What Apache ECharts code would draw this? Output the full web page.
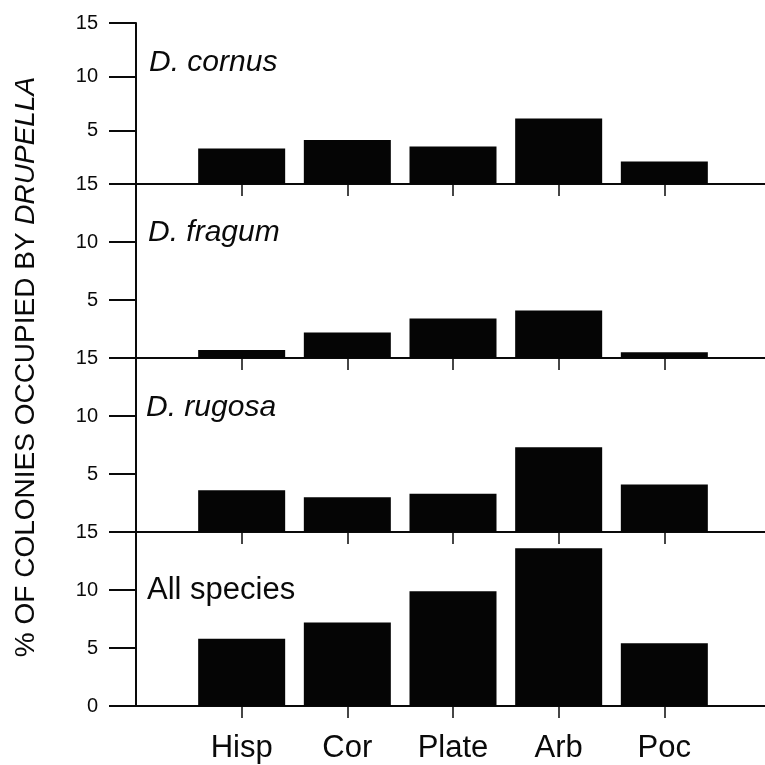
<!DOCTYPE html>
<html>
<head>
<meta charset="utf-8">
<script src="https://cdn.jsdelivr.net/npm/echarts@6/dist/echarts.min.js"></script>
<style>
  html, body { margin: 0; padding: 0; background: #fff; }
  #chart { width: 765px; height: 765px; }
</style>
</head>
<body>
<div id="chart"></div>
<script>
// Coral growth forms (x categories); blank slots pad the axis on both sides
const categories = ['Hisp', 'Cor', 'Plate', 'Arb', 'Poc'];

// % of colonies occupied by Drupella, per panel
const panelNames = ['D. cornus', 'D. fragum', 'D. rugosa', 'All species'];
const cornus  = [3.3, 4.1, 3.5, 6.1, 2.1];
const fragum  = [0.7, 2.2, 3.4, 4.1, 0.5];
const rugosa  = [3.6, 3.0, 3.3, 7.3, 4.1];
const allSpp  = [5.8, 7.2, 9.9, 13.6, 5.4];
const panelValues = [cornus, fragum, rugosa, allSpp];

// y tick range shared by all panels
const yMin = 0, yMax = 15, yStep = 5;

const FONT = '"Liberation Sans", Arial, Helvetica, sans-serif';
const INK = '#0a0a0a';

// panel layout (pixels)
const plotLeft = 136, plotWidth = 634;
const panelBoxes = [
  { top: 23,  height: 161 },
  { top: 184, height: 174 },
  { top: 358, height: 174 },
  { top: 532, height: 174 }
];
const labelPos = [
  { x: 149, y: 48 },
  { x: 148, y: 218 },
  { x: 146, y: 393 },
  { x: 147, y: 575 }
];

const paddedCats = [''].concat(categories, ['']);

const grids = [], xAxes = [], yAxes = [], series = [], graphics = [];
panelBoxes.forEach(function (box, i) {
  const isLast = i === panelBoxes.length - 1;
  grids.push({
    left: plotLeft, width: plotWidth, top: box.top, height: box.height,
    outerBoundsMode: 'none', containLabel: false
  });
  xAxes.push({
    type: 'category',
    gridIndex: i,
    data: paddedCats,
    boundaryGap: false,
    axisLine: { show: true, lineStyle: { color: INK, width: 2 } },
    axisTick: {
      show: true,
      length: 12,
      interval: function (idx, val) { return val !== ''; },
      lineStyle: { color: INK, width: 1.5 }
    },
    axisLabel: {
      show: isLast,
      interval: 0,
      margin: 27,
      color: INK,
      fontSize: 31,
      fontFamily: FONT
    },
    splitLine: { show: false }
  });
  yAxes.push({
    type: 'value',
    gridIndex: i,
    min: yMin,
    max: yMax,
    interval: yStep,
    axisLine: { show: true, lineStyle: { color: INK, width: 2 } },
    axisTick: { show: true, length: 27, lineStyle: { color: INK, width: 2 } },
    axisLabel: {
      color: INK,
      fontSize: 20,
      fontFamily: FONT,
      margin: 38,
      showMinLabel: isLast
    },
    splitLine: { show: false }
  });
  series.push({
    type: 'bar',
    xAxisIndex: i,
    yAxisIndex: i,
    data: ['-'].concat(panelValues[i], ['-']),
    barWidth: 87,
    itemStyle: { color: '#050505' },
    silent: true
  });
  graphics.push({
    type: 'text',
    x: labelPos[i].x,
    y: labelPos[i].y,
    style: {
      text: panelNames[i],
      fontSize: isLast ? 31 : 30,
      fontStyle: isLast ? 'normal' : 'italic',
      fontFamily: FONT,
      fill: INK,
      verticalAlign: 'top',
      align: 'left'
    }
  });
});

// vertical axis title with the genus in italics
graphics.push({
  type: 'text',
  x: 26,
  y: 367,
  rotation: Math.PI / 2,
  style: {
    text: '% OF COLONIES OCCUPIED BY {i|DRUPELLA}',
    fontSize: 28,
    fontFamily: FONT,
    fill: INK,
    align: 'center',
    verticalAlign: 'middle',
    rich: {
      i: { fontSize: 28, fontFamily: FONT, fontStyle: 'italic', fill: INK }
    }
  }
});

const chart = echarts.init(document.getElementById('chart'), null, { renderer: 'canvas' });
chart.setOption({
  animation: false,
  backgroundColor: '#ffffff',
  grid: grids,
  xAxis: xAxes,
  yAxis: yAxes,
  series: series,
  graphic: graphics
});
</script>
</body>
</html>
